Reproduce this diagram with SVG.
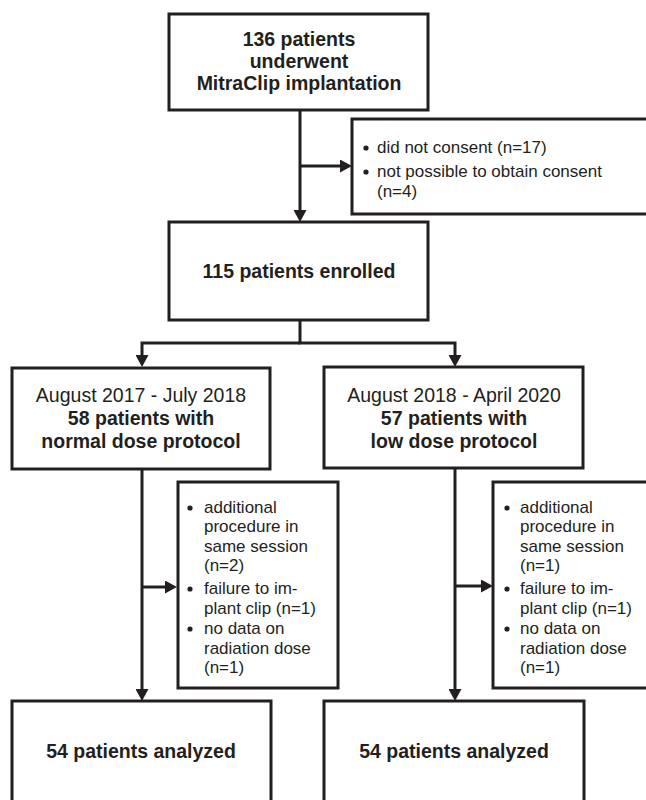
<svg xmlns="http://www.w3.org/2000/svg" width="646" height="800" viewBox="0 0 646 800">
<style>
  .box { fill: #ffffff; stroke: #231f20; stroke-width: 3; }
  .ln { fill: none; stroke: #231f20; stroke-width: 3; marker-end: url(#ah); }
  .ln0 { fill: none; stroke: #231f20; stroke-width: 3; }
  .h { font-family: "Liberation Sans", Arial, sans-serif; font-size: 19.5px; fill: #231f20; text-anchor: middle; }
  .b { font-weight: bold; }
  .t { font-family: "Liberation Sans", Arial, sans-serif; font-size: 17px; fill: #231f20; }
  .dot { fill: #231f20; }
</style>
<defs>
  <marker id="ah" markerUnits="userSpaceOnUse" markerWidth="13" markerHeight="13" refX="0" refY="6.5" orient="auto" viewBox="0 0 13 13">
    <path d="M0,0 L12,6.5 L0,13 Z" fill="#231f20"/>
  </marker>
</defs>
<rect width="646" height="800" fill="#ffffff"/>

<g id="connectors">
  <line class="ln" x1="300" y1="110" x2="300" y2="210"/>
  <line class="ln" x1="300" y1="166" x2="340" y2="166"/>
  <polyline class="ln0" points="300,320 300,343"/>
  <polyline class="ln" points="300,343 142,343 142,355"/>
  <polyline class="ln" points="298.5,343 455,343 455,355"/>
  <line class="ln" x1="142" y1="469" x2="142" y2="689"/>
  <line class="ln" x1="142" y1="587" x2="165" y2="587"/>
  <line class="ln" x1="455" y1="468" x2="455" y2="689"/>
  <line class="ln" x1="455" y1="586" x2="481" y2="586"/>
</g>

<g id="node-start">
  <rect class="box" x="169" y="14" width="259" height="96"/>
  <text class="h b" x="299" y="46">136 patients</text>
  <text class="h b" x="299" y="68">underwent</text>
  <text class="h b" x="299" y="90">MitraClip implantation</text>
</g>

<g id="node-excl-consent">
  <rect class="box" x="352" y="119" width="310" height="95"/>
  <circle class="dot" cx="366" cy="148" r="2.6"/>
  <text class="t" x="377" y="153">did not consent (n=17)</text>
  <circle class="dot" cx="366" cy="172" r="2.6"/>
  <text class="t" x="377" y="177">not possible to obtain consent</text>
  <text class="t" x="377" y="197">(n=4)</text>
</g>

<g id="node-enrolled">
  <rect class="box" x="169" y="222" width="259" height="98"/>
  <text class="h b" x="299" y="278">115 patients enrolled</text>
</g>

<g id="node-normal">
  <rect class="box" x="12" y="368" width="258" height="101"/>
  <text class="h" x="141" y="402">August 2017 - July 2018</text>
  <text class="h b" x="141" y="425">58 patients with</text>
  <text class="h b" x="141" y="448">normal dose protocol</text>
</g>

<g id="node-low">
  <rect class="box" x="324" y="367" width="259" height="101"/>
  <text class="h" x="454" y="402">August 2018 - April 2020</text>
  <text class="h b" x="454" y="425">57 patients with</text>
  <text class="h b" x="454" y="448">low dose protocol</text>
</g>

<g id="node-excl-normal">
  <rect class="box" x="178" y="482" width="160" height="206"/>
  <circle class="dot" cx="190" cy="508" r="2.6"/>
  <text class="t" x="204" y="513">additional</text>
  <text class="t" x="204" y="532">procedure in</text>
  <text class="t" x="204" y="552">same session</text>
  <text class="t" x="204" y="571">(n=2)</text>
  <circle class="dot" cx="190" cy="589" r="2.6"/>
  <text class="t" x="204" y="594">failure to im-</text>
  <text class="t" x="204" y="614">plant clip (n=1)</text>
  <circle class="dot" cx="190" cy="629" r="2.6"/>
  <text class="t" x="204" y="634">no data on</text>
  <text class="t" x="204" y="654">radiation dose</text>
  <text class="t" x="204" y="673">(n=1)</text>
</g>

<g id="node-excl-low">
  <rect class="box" x="493" y="482" width="170" height="206"/>
  <circle class="dot" cx="507" cy="508" r="2.6"/>
  <text class="t" x="520" y="513">additional</text>
  <text class="t" x="520" y="532">procedure in</text>
  <text class="t" x="520" y="552">same session</text>
  <text class="t" x="520" y="571">(n=1)</text>
  <circle class="dot" cx="507" cy="589" r="2.6"/>
  <text class="t" x="520" y="594">failure to im-</text>
  <text class="t" x="520" y="614">plant clip (n=1)</text>
  <circle class="dot" cx="507" cy="629" r="2.6"/>
  <text class="t" x="520" y="634">no data on</text>
  <text class="t" x="520" y="654">radiation dose</text>
  <text class="t" x="520" y="673">(n=1)</text>
</g>

<g id="node-analyzed-normal">
  <rect class="box" x="12" y="701" width="259" height="120"/>
  <text class="h b" x="141" y="758">54 patients analyzed</text>
</g>

<g id="node-analyzed-low">
  <rect class="box" x="324" y="701" width="260" height="120"/>
  <text class="h b" x="454" y="758">54 patients analyzed</text>
</g>
</svg>
